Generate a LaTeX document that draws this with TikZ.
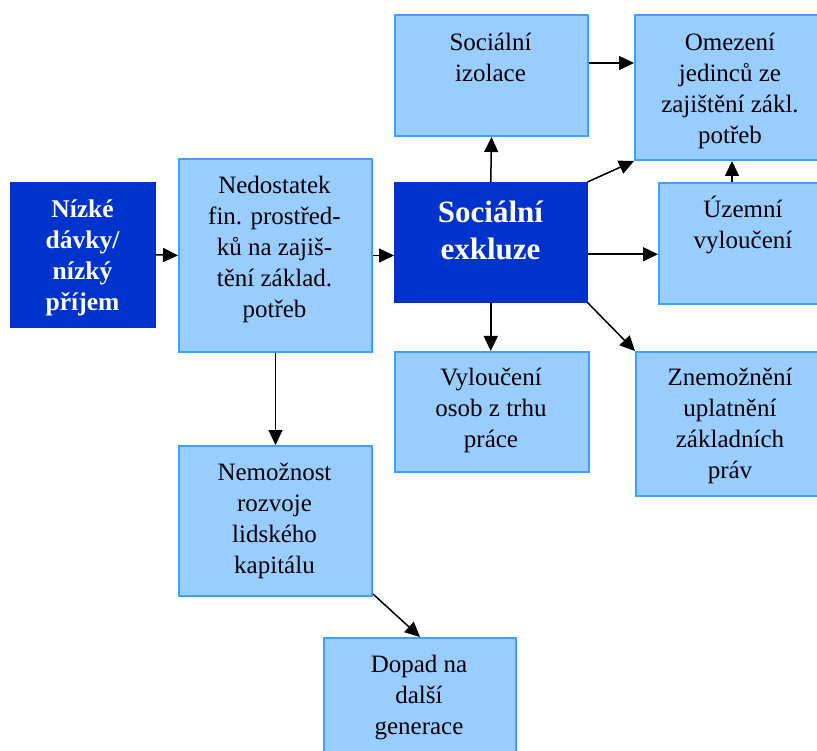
\documentclass[tikz,border=0pt]{standalone}
\usepackage{fontspec}
\setmainfont{Liberation Serif}
\newfontfamily\timesfam{Liberation Serif}
\usetikzlibrary{arrows.meta}
\definecolor{darkbox}{RGB}{0,51,204}
\definecolor{lightfill}{RGB}{153,204,255}
\definecolor{lightline}{RGB}{64,160,255}
\tikzset{
  darkrect/.style={fill=darkbox, draw=darkbox, line width=0.5pt, rectangle, inner sep=0pt, anchor=north west},
  lightrect/.style={fill=lightfill, draw=lightline, line width=2pt, rectangle, inner sep=0pt, anchor=north west},
  txt/.style={anchor=north, inner sep=0pt, align=center, font=\timesfam\fontsize{25}{31}\selectfont},
  boldtxt/.style={anchor=north, inner sep=0pt, align=center, text=white, font=\timesfam\fontsize{25.5}{31}\selectfont\bfseries},
  bigtxt/.style={anchor=north, inner sep=0pt, align=center, text=white, font=\timesfam\fontsize{31}{37}\selectfont\bfseries},
  arr/.style={draw=black, line width=1.5pt, -{Triangle[length=15pt,width=14pt]}}
}
\begin{document}
\begin{tikzpicture}[x=1pt,y=-1pt]
\useasboundingbox (0,0) rectangle (817,751);
% boxes
\node[darkrect, minimum width=145pt, minimum height=145pt] (A) at (10,182) {};
\node[lightrect, minimum width=193pt, minimum height=193pt] (B) at (178,158) {};
\node[darkrect, minimum width=193pt, minimum height=120pt] (C) at (394,182) {};
\node[lightrect, minimum width=193pt, minimum height=121pt] (D) at (394,14) {};
\node[lightrect, minimum width=200pt, minimum height=145pt] (E) at (634,14) {};
\node[lightrect, minimum width=176pt, minimum height=121pt] (F) at (658,182) {};
\node[lightrect, minimum width=194pt, minimum height=120pt] (G) at (394,351) {};
\node[lightrect, minimum width=199pt, minimum height=144pt] (H) at (635,351) {};
\node[lightrect, minimum width=193pt, minimum height=150pt] (I) at (178,445) {};
\node[lightrect, minimum width=192pt, minimum height=130pt] (J) at (323,637) {};
% texts
\node[boldtxt] (tA) at (82.5,195.3) {\strut Nízké\\dávky/\\nízký\\příjem};
\node[txt] (tB) at (274.5,171.3) {\strut Nedostatek\\fin. prostřed-\\ků na zajiš-\\tění základ.\\potřeb};
\node[bigtxt] (tC) at (490.5,196.1) {\strut Sociální\\exkluze};
\node[txt] (tD) at (490.5,28.3) {\strut Sociální\\izolace};
\node[txt] (tE) at (730,28.3) {\strut Omezení\\jedinců ze\\zajištění zákl.\\potřeb};
\node[txt] (tF) at (743,195.3) {\strut Územní\\vyloučení};
\node[txt] (tG) at (491,363.3) {\strut Vyloučení\\osob z trhu\\práce};
\node[txt] (tH) at (730,363.3) {\strut Znemožnění\\uplatnění\\základních\\práv};
\node[txt] (tI) at (274.5,458.3) {\strut Nemožnost\\rozvoje\\lidského\\kapitálu};
\node[txt] (tJ) at (419,650.3) {\strut Dopad na\\další\\generace};
% connectors
\draw[arr] (A.east) -- (B.west);
\draw[arr] (B.east) -- (B.east -| C.west);
\draw[arr] (C.north) -- (D.south);
\draw[arr] (C.north east) -- (E.south west);
\draw[arr] ([yshift=-12pt]C.east) -- ([yshift=-12pt]C.east -| F.west);
\draw[arr] ([xshift=-15pt]F.north) -- ([xshift=-15pt]F.north |- E.south);
\draw[arr] ([yshift=12.5pt]D.east) -- ([yshift=12.5pt]D.east -| E.west);
\draw[arr] (C.south) -- (C.south |- G.north);
\draw[arr] (C.south east) -- (H.north west);
\draw[arr] (B.south) -- (B.south |- I.north);
\draw[arr] ([yshift=3pt]I.south east) -- (J.north);
\end{tikzpicture}
\end{document}
